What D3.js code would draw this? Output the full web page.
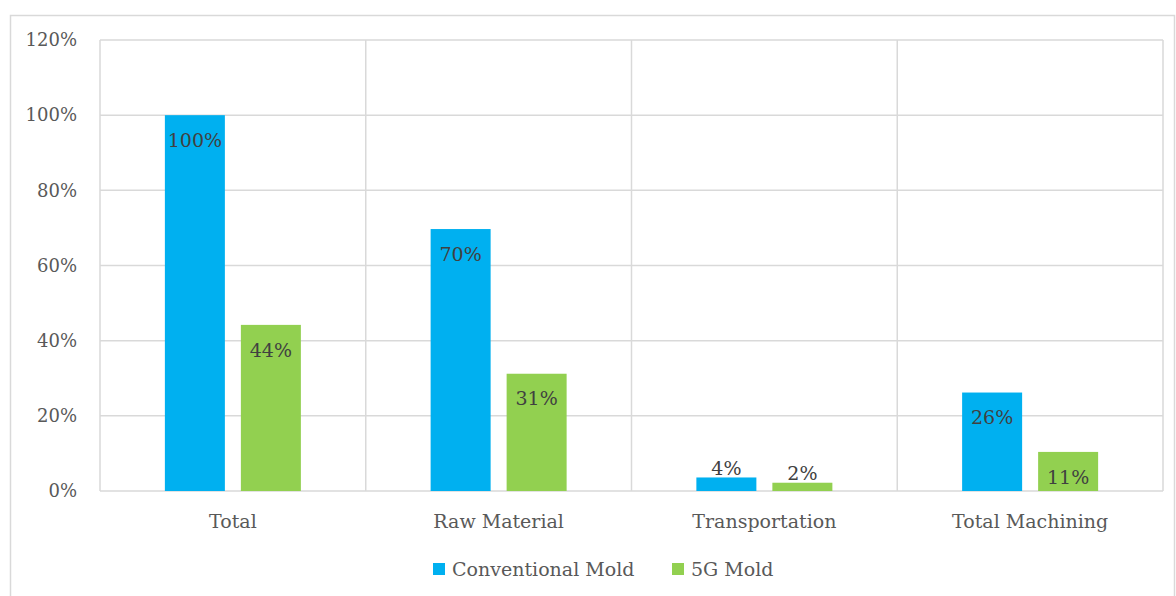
<!DOCTYPE html>
<html>
<head>
<meta charset="utf-8">
<script src="https://cdn.jsdelivr.net/npm/d3@7"></script>
<style>
  html, body { margin: 0; padding: 0; background: #fff; }
  svg text { font-family: "DejaVu Serif", "Liberation Serif", serif; }
</style>
</head>
<body>
<div id="chart"></div>
<script>
const categories = ["Total", "Raw Material", "Transportation", "Total Machining"];
const seriesNames = ["Conventional Mold", "5G Mold"];
const conventional = [100, 69.7, 3.6, 26.2];
const mold5g = [44.2, 31.2, 2.2, 10.4];
const conventionalLabels = ["100%", "70%", "4%", "26%"];
const mold5gLabels = ["44%", "31%", "2%", "11%"];
const yTicks = [0, 20, 40, 60, 80, 100, 120];
const colors = ["#00b0f0", "#92d050"];

const width = 1176, height = 596;
const margin = { top: 40, right: 13, bottom: 105, left: 100 };
const grid = "#d9d9d9";

const svg = d3.select("#chart").append("svg").attr("width", width).attr("height", height);

// outer chart border
svg.append("rect")
  .attr("x", 10.5).attr("y", 15.5)
  .attr("width", 1164).attr("height", 600)
  .attr("fill", "none").attr("stroke", grid).attr("stroke-width", 1.5);

const x = d3.scaleBand().domain(categories).range([margin.left, width - margin.right]);
const y = d3.scaleLinear().domain([0, 120]).range([height - margin.bottom, margin.top]);

// horizontal gridlines
svg.append("g")
  .selectAll("line")
  .data(yTicks)
  .join("line")
  .attr("x1", margin.left).attr("x2", width - margin.right)
  .attr("y1", (d) => y(d)).attr("y2", (d) => y(d))
  .attr("stroke", grid).attr("stroke-width", 1.5);

// vertical category dividers
const edges = categories.map((c) => x(c)).concat([x.range()[1]]);
svg.append("g")
  .selectAll("line")
  .data(edges)
  .join("line")
  .attr("x1", (d) => d).attr("x2", (d) => d)
  .attr("y1", y(120)).attr("y2", y(0))
  .attr("stroke", grid).attr("stroke-width", 1.5);

// y tick labels
svg.append("g")
  .selectAll("text")
  .data(yTicks)
  .join("text")
  .attr("x", 77).attr("y", (d) => y(d))
  .attr("dy", "0.35em")
  .attr("text-anchor", "end")
  .attr("fill", "#595959")
  .attr("font-size", 18)
  .text((d) => d + "%");

// bars
const barW = 60, gap = 16;
const rows = categories.flatMap((c, i) => [
  { cat: c, s: 0, v: conventional[i], label: conventionalLabels[i] },
  { cat: c, s: 1, v: mold5g[i], label: mold5gLabels[i] },
]);
const barX = (d) => x(d.cat) + x.bandwidth() / 2 + (d.s === 0 ? -gap / 2 - barW : gap / 2);

svg.append("g")
  .selectAll("rect")
  .data(rows)
  .join("rect")
  .attr("x", barX)
  .attr("y", (d) => y(d.v))
  .attr("width", barW)
  .attr("height", (d) => y(0) - y(d.v))
  .attr("fill", (d) => colors[d.s]);

// data labels: inside end, or above the bar when it is too short
svg.append("g")
  .selectAll("text")
  .data(rows)
  .join("text")
  .attr("x", (d) => barX(d) + barW / 2)
  .attr("y", (d) => (y(0) - y(d.v) > 30 ? y(d.v) + 25 : y(d.v) - 9))
  .attr("dy", "0.35em")
  .attr("text-anchor", "middle")
  .attr("fill", "#404040")
  .attr("font-size", 19)
  .text((d) => d.label);

// category labels
svg.append("g")
  .selectAll("text")
  .data(categories)
  .join("text")
  .attr("x", (d) => x(d) + x.bandwidth() / 2)
  .attr("y", 521)
  .attr("dy", "0.35em")
  .attr("text-anchor", "middle")
  .attr("fill", "#595959")
  .attr("font-size", 19)
  .text((d) => d);

// legend
const legendX = [433, 672];
const legend = svg.append("g")
  .selectAll("g")
  .data(seriesNames)
  .join("g")
  .attr("transform", (d, i) => `translate(${legendX[i]},569)`);
legend.append("rect")
  .attr("x", 0).attr("y", -6)
  .attr("width", 12).attr("height", 12)
  .attr("fill", (d, i) => colors[i]);
legend.append("text")
  .attr("x", 19).attr("y", 0)
  .attr("dy", "0.35em")
  .attr("fill", "#595959")
  .attr("font-size", 19)
  .text((d) => d);
</script>
</body>
</html>
